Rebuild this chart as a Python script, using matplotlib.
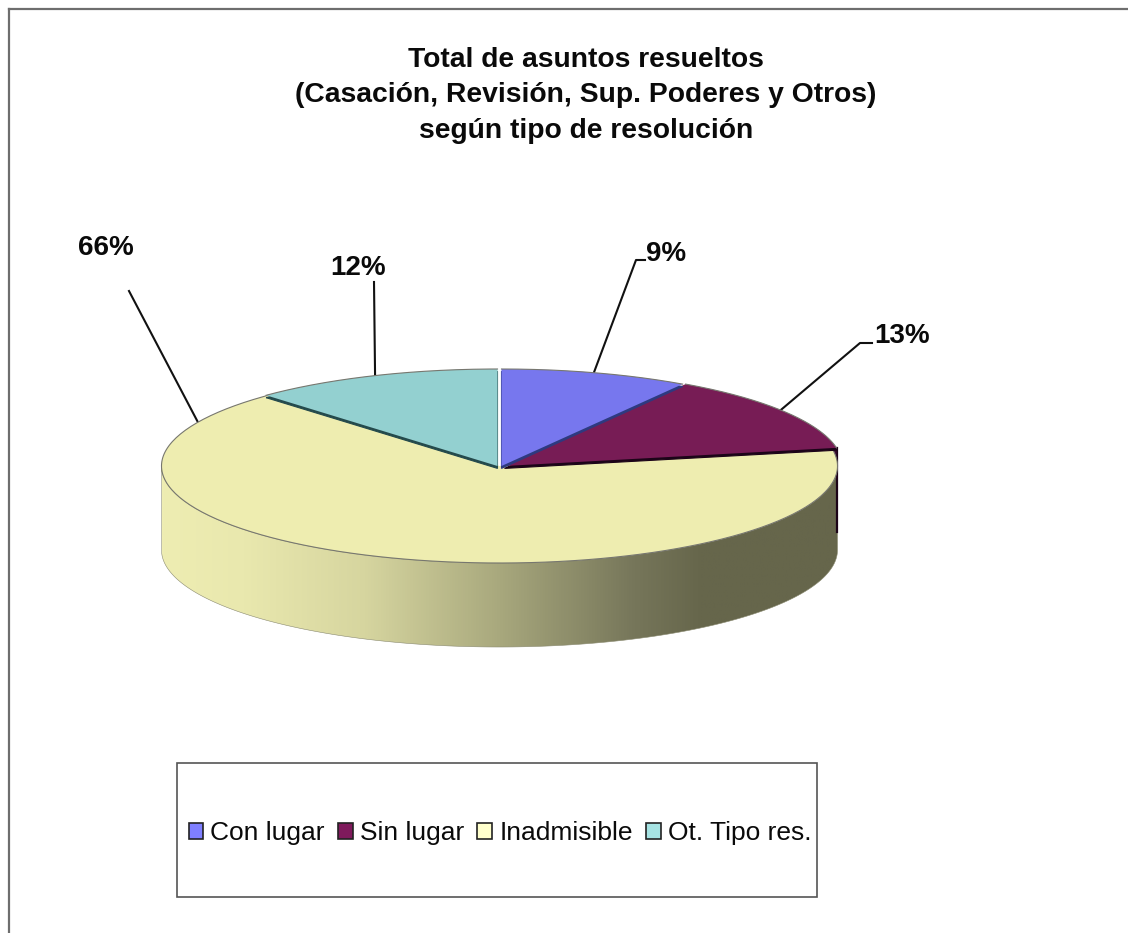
import numpy as np
import matplotlib
matplotlib.use("Agg")
import matplotlib.pyplot as plt
from matplotlib.colors import LinearSegmentedColormap
from matplotlib.patches import Polygon, Rectangle, Patch

# --- data ---
categories = ["Con lugar", "Sin lugar", "Inadmisible", "Ot. Tipo res."]
values = [9, 13, 66, 12]
value_labels = ["9%", "13%", "66%", "12%"]
title_lines = ["Total de asuntos resueltos",
               "(Casación, Revisión, Sup. Poderes y Otros)",
               "según tipo de resolución"]

# --- style ---
top_colors = ["#7777ee", "#771c55", "#eeedb0", "#93d0d0"]
legend_colors = ["#7f7fff", "#7f1a5c", "#ffffcc", "#a6e3e3"]
edge_colors = ["#2e3a80", "#1c0418", "#8a8a60", "#244a4c"]
side_stops = [(0.0, "#eeedb2"), (0.12, "#e9e8ae"), (0.30, "#d6d59f"),
              (0.50, "#a8a87d"), (0.70, "#76765a"), (0.80, "#66664b"), (1.0, "#66664b")]

plt.rcParams["font.family"] = ["Liberation Sans", "DejaVu Sans"]
W, H = 1128, 933
fig = plt.figure(figsize=(W / 100, H / 100), dpi=100, facecolor="white")
ax = fig.add_axes([0, 0, 1, 1])

cx, cy, rx, ry, depth = 499.5, 466.0, 338.0, 97.0, 84.0
fracs = np.array(values, dtype=float) / np.sum(values)
bounds = np.concatenate([[0], np.cumsum(fracs)]) * 2 * np.pi
mids = (bounds[:-1] + bounds[1:]) / 2
offsets = [(2, 0), (5, 0), (0, 0), (-2, 0)]


def rim(t, dx=0.0, dy=0.0):
    return np.column_stack([cx + dx + rx * np.sin(t), cy + dy - ry * np.cos(t)])


# outer frame: only the top and left rules fall inside the picture
ax.plot([9, W], [9, 9], color="#6e6e6e", lw=1.6, zorder=1)
ax.plot([9, 9], [9, H], color="#6e6e6e", lw=1.6, zorder=1)

# side wall of the large slice with a horizontal gradient
tt = np.linspace(np.pi / 2, 3 * np.pi / 2, 200)
wall = np.vstack([rim(tt), rim(tt[::-1], dy=depth)])
clip = Polygon(wall, closed=True, transform=ax.transData, fc="none", ec="none")
ax.add_patch(clip)
cmap = LinearSegmentedColormap.from_list("side", side_stops)
grad = np.linspace(0, 1, 512)[None, :]
im = ax.imshow(grad, cmap=cmap, vmin=0, vmax=1, aspect="auto",
               extent=(cx - rx, cx + rx, cy + ry + depth, cy - ry), zorder=2)
im.set_clip_path(clip)
ax.add_patch(Polygon(wall, closed=True, fc="none", ec="#8a8a70", lw=0.4, zorder=2.1))

# dark end of the "Sin lugar" slice wall at the right edge
corner = rim(np.array([bounds[2]]), dx=offsets[1][0])[0]
ax.plot([corner[0], corner[0]], [corner[1], corner[1] + depth], color="#1c0418", lw=1.6, zorder=2.2)
ax.add_patch(Polygon([corner, corner + [0, 32], corner + [-8, 0]], closed=True,
                     fc="#3a0a30", ec="none", zorder=2.2))

# top faces, the large slice first
for n, i in enumerate([2, 1, 0, 3]):
    t = np.linspace(bounds[i], bounds[i + 1], 200)
    dx, dy = offsets[i]
    apex = [[cx + dx, cy + dy]]
    pts = np.vstack([apex, rim(t, dx=dx, dy=dy)])
    base = 3 + n * 0.1
    if i != 2:
        ax.add_patch(Polygon(pts + [0, 2.4], closed=True, fc=edge_colors[i], ec=edge_colors[i],
                             lw=0.8, zorder=base))
    ax.add_patch(Polygon(pts, closed=True, fc=top_colors[i], ec="none", zorder=base + 0.01))
    ax.plot(*rim(t, dx=dx, dy=dy).T, color="#77776f", lw=0.8, zorder=base + 0.02)

# leader lines anchored on the rim, labels beside them
anchors = [mids[0], mids[1], bounds[2] + 0.916 * (bounds[3] - bounds[2]), mids[3]]
elbows = [[(636, 260), (645, 260)], [(860, 343), (872, 343)], [(129, 291)], [(374, 282)]]
label_xy = [(666, 254), (902, 336), (106, 248), (358, 268)]
for i, a in enumerate(anchors):
    p = rim(np.array([a]))
    path = np.vstack([p, elbows[i]])
    ax.plot(path[:, 0], path[:, 1], color="#111111", lw=1.5, zorder=2.9)
    ax.text(*label_xy[i], value_labels[i], ha="center", va="center",
            fontsize=20, fontweight="bold", color="#0a0a0a", zorder=5)

# title
for line, y in zip(title_lines, [60, 95, 131]):
    ax.text(586, y, line, ha="center", va="center", fontsize=20.3, fontweight="bold", color="#0a0a0a")

# legend box and entries
ax.add_patch(Rectangle((177, 763), 640, 134, fc="white", ec="#555555", lw=1.2, zorder=4))
handles = [Patch(fc=c, ec="#222222", lw=1.2) for c in legend_colors]
leg = ax.legend(handles, categories, ncol=4, frameon=False, loc="center",
                bbox_to_anchor=(500 / W, 1 - 833 / H), fontsize=19, labelcolor="#0a0a0a",
                handlelength=0.55, handleheight=0.55, handletextpad=0.28, columnspacing=0.5,
                borderpad=0, borderaxespad=0)
leg.set_zorder(5)

ax.set_xlim(0, W)
ax.set_ylim(H, 0)
ax.axis("off")
fig.savefig("out.png", dpi=100, facecolor="white")
